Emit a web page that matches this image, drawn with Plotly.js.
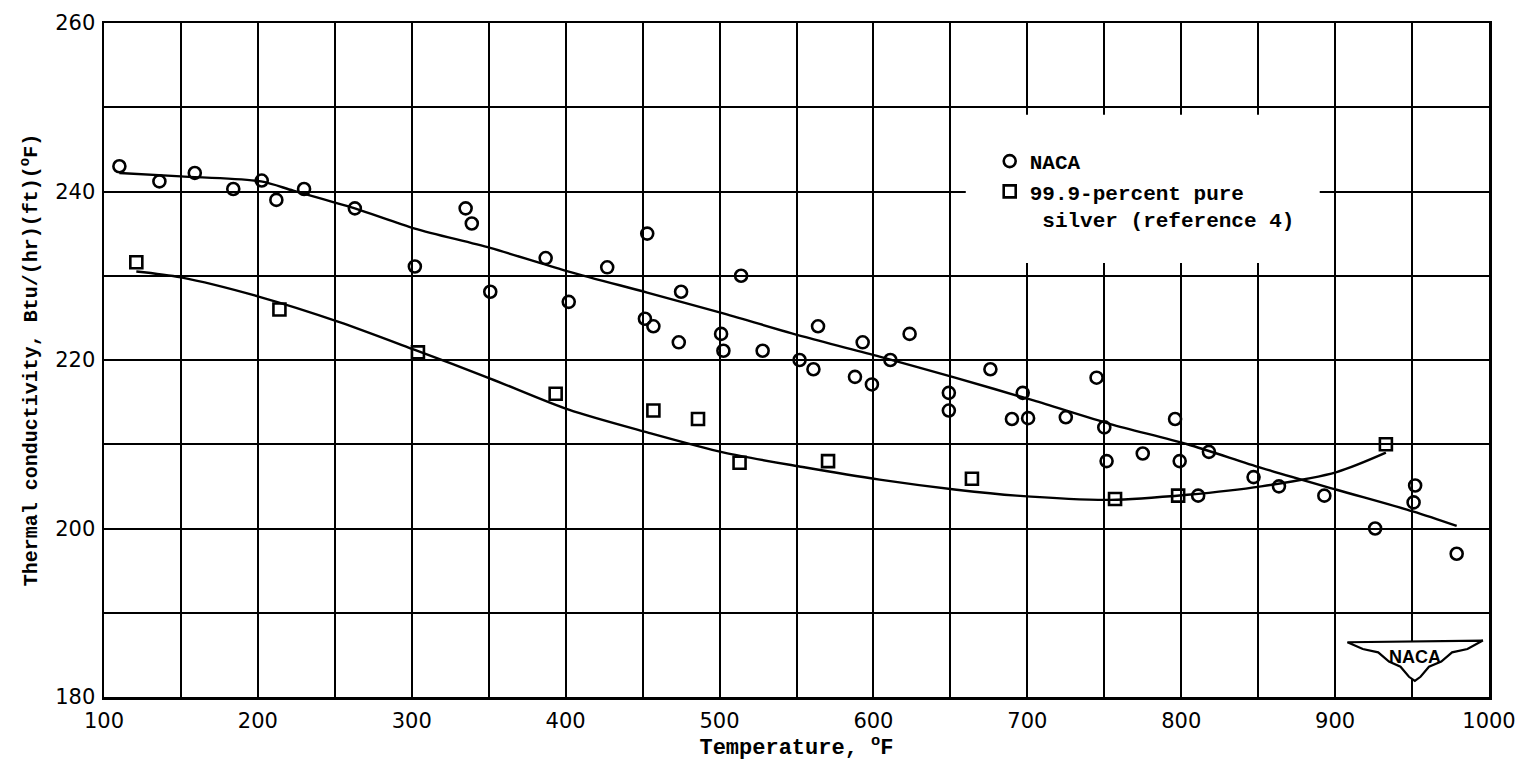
<!DOCTYPE html>
<html>
<head>
<meta charset="utf-8">
<script src="https://cdn.plot.ly/plotly-3.0.1.min.js"></script>
<style>html,body{margin:0;padding:0;background:#fff;}#chart{width:1539px;height:761px;}</style>
</head>
<body>
<div id="chart"></div>
<script>
// NACA measurements: temperature (deg F) and thermal conductivity
var nacaTemp = [110, 136, 159, 184, 202.5, 212, 230, 263, 302, 335, 339, 351, 387, 402, 427, 453, 451.5, 457, 475, 473.5,
                514, 501, 502.5, 528, 552, 564, 561, 593, 588, 599, 611, 623.5, 649, 649, 676, 690, 697, 700.5, 725, 745,
                750, 751.5, 775, 796, 799, 818, 811, 847, 863.5, 893, 926, 952, 951, 979];
var nacaK    = [243, 241.2, 242.2, 240.3, 241.3, 239, 240.3, 238, 231.1, 238, 236.2, 228.1, 232.1, 226.9, 231, 235, 224.9, 224, 228.1, 222.1,
                230, 223.1, 221.1, 221.1, 220, 224, 218.9, 222.1, 218, 217.1, 220, 223.1, 216.1, 214, 218.9, 213, 216.1, 213.1, 213.2, 217.9,
                212, 208, 208.9, 213, 208, 209.1, 203.9, 206.1, 205, 203.9, 200, 205.1, 203.1, 197];

// 99.9-percent pure silver (reference 4)
var silverTemp = [121, 214, 304, 393.5, 457, 486, 513, 570.5, 664, 757, 798, 933];
var silverK    = [231.6, 226, 220.9, 216, 214, 213, 207.8, 208, 205.9, 203.5, 203.9, 210];

// Faired curves
var nacaFitTemp = [110, 150, 202, 223, 263, 302, 351, 402, 453, 503, 554, 604, 653, 704, 754, 804, 852, 901, 951, 979];
var nacaFitK    = [242.2, 241.8, 241.2, 240.1, 238, 235.6, 233.3, 230.5, 228, 225.5, 222.8, 220.4, 217.9, 215.2, 212.4, 210, 207.2, 204.6, 202, 200.3];
var silverFitTemp = [121, 150, 201, 253, 302, 351, 402, 453, 503, 554, 604, 654, 693, 754, 804, 852, 901, 933];
var silverFitK    = [230.5, 229.8, 227.5, 224.5, 221.2, 217.8, 214.1, 211.4, 209, 207.3, 205.8, 204.6, 203.9, 203.4, 204, 205, 206.7, 209];

var seriesNames = ['NACA', '99.9-percent pure<br>\u00a0silver (reference 4)'];
var xTitle = 'Temperature, <sup>o</sup>F';
var yTitle = 'Thermal conductivity, Btu/(hr)(ft)(<sup>o</sup>F)';

var mono = 'Liberation Mono, Courier New, monospace';
var lineStyle = {color: '#000', width: 2.4, shape: 'spline', smoothing: 0.8};

var traces = [
  {x: nacaFitTemp, y: nacaFitK, mode: 'lines', line: lineStyle, showlegend: false, hoverinfo: 'skip'},
  {x: silverFitTemp, y: silverFitK, mode: 'lines', line: lineStyle, showlegend: false, hoverinfo: 'skip'},
  {x: nacaTemp, y: nacaK, mode: 'markers', name: seriesNames[0],
   marker: {symbol: 'circle-open', size: 12, color: '#000', line: {width: 2.6, color: '#000'}}},
  {x: silverTemp, y: silverK, mode: 'markers', name: seriesNames[1],
   marker: {symbol: 'square-open', size: 12, color: '#000', line: {width: 2.6, color: '#000'}}}
];

var layout = {
  width: 1539, height: 761,
  margin: {l: 104, r: 50, t: 23, b: 64},
  paper_bgcolor: '#fff', plot_bgcolor: '#fff',
  font: {family: 'DejaVu Sans, Verdana, sans-serif', size: 21, color: '#000'},
  showlegend: true,
  xaxis: {
    range: [100, 1000], tick0: 0, dtick: 100, showgrid: true, gridcolor: '#000', gridwidth: 2,
    minor: {dtick: 50, showgrid: true, gridcolor: '#000', gridwidth: 2},
    zeroline: false, showline: true, mirror: true, linecolor: '#000', linewidth: 2.5,
    ticks: '', ticklabelstandoff: 3,
    tickfont: {family: 'DejaVu Sans, Verdana, sans-serif', size: 21, color: '#000'},
    title: {text: xTitle, standoff: 4, font: {family: mono, size: 22, color: '#000', weight: 'bold'}}
  },
  yaxis: {
    range: [180, 260], tick0: 0, dtick: 20, showgrid: true, gridcolor: '#000', gridwidth: 2,
    minor: {dtick: 10, showgrid: true, gridcolor: '#000', gridwidth: 2},
    zeroline: false, showline: true, mirror: true, linecolor: '#000', linewidth: 2.5,
    ticks: '', ticklabelstandoff: 2,
    tickfont: {family: 'DejaVu Sans, Verdana, sans-serif', size: 21, color: '#000'},
    title: {text: yTitle, standoff: 12, font: {family: mono, size: 20, color: '#000', weight: 'bold'}}
  },
  legend: {
    x: 0.6395, y: 0.825, xanchor: 'left', yanchor: 'top', valign: 'top',
    bgcolor: 'rgba(0,0,0,0)', borderwidth: 0, itemwidth: 30, tracegroupgap: 2,
    font: {family: mono, size: 21, color: '#000', weight: 'bold'}
  },
  shapes: [
    // white panel behind the key
    {type: 'rect', xref: 'x', yref: 'y', x0: 660, x1: 890, y0: 231.5, y1: 249.1,
     fillcolor: '#fff', line: {width: 0}, layer: 'between'},
    // NACA wings emblem
    {type: 'path', xref: 'x', yref: 'y', layer: 'above', fillcolor: '#fff', line: {color: '#000', width: 2.2},
     path: 'M 908,186.5 L 996,186.7 L 986,185.7 L 976,185.3 L 969,184.2 L 961,183.6 L 955.5,182.4 L 951.8,181.9 L 948,182.4 L 942.5,183.6 L 935,184.2 L 928,185.3 L 918,185.7 Z'}
  ],
  annotations: [
    {xref: 'x', yref: 'y', x: 952, y: 184.7, text: 'NACA', showarrow: false,
     font: {family: 'Liberation Sans Narrow, Liberation Sans, sans-serif', size: 18, color: '#000', weight: 'bold'}}
  ]
};

Plotly.newPlot('chart', traces, layout, {displayModeBar: false, staticPlot: true});
</script>
</body>
</html>
